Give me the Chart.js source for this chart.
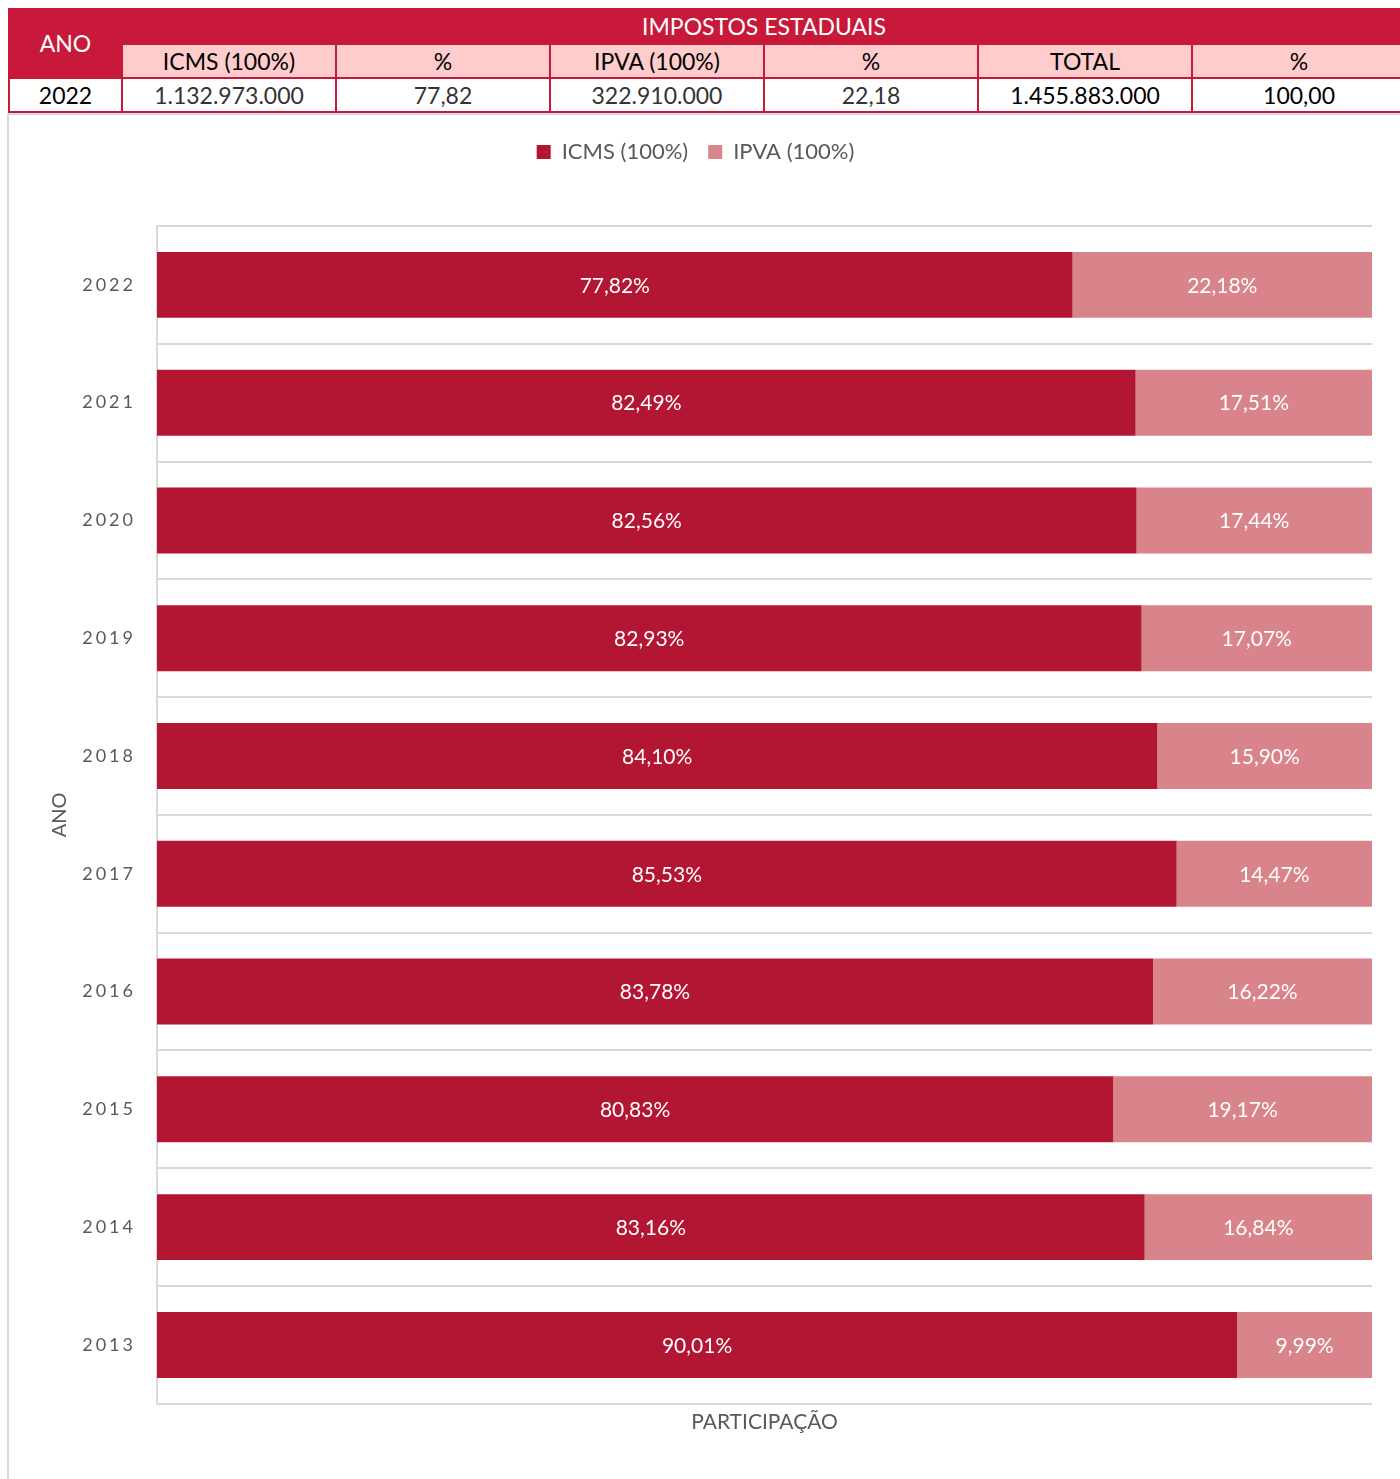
<!DOCTYPE html>
<html>
<head>
<meta charset="utf-8">
<script src="https://cdn.jsdelivr.net/npm/chart.js@4.4.1/dist/chart.umd.min.js"></script>
<style>
  html, body { margin: 0; padding: 0; background: #fff; overflow: hidden; width: 1400px; height: 1479px; }
  #tbl { position: absolute; left: 8px; top: 8px; border-collapse: collapse; table-layout: fixed; width: 1397px;
         font-family: Lato, "Open Sans", sans-serif; font-size: 23px; }
  #tbl td { border: 2px solid #C8193A; text-align: center; padding: 0; line-height: 1; white-space: nowrap; }
  #tbl tr.r1 td { background: #C8193A; color: #fff; height: 33px; }
  #tbl tr.r2 td { background: #FFCCCC; color: #000; height: 32px; }
  #tbl tr.r3 td { background: #fff; color: #333; height: 32px; font-weight: 400; }
  #tbl tr.r3 td.strong { color: #000; font-weight: 400; }
  #tbl td.ano { background: #C8193A; color: #fff; }
  #box { position: absolute; left: 7px; top: 113px; width: 1391px; height: 1364px;
         border-left: 2px solid #d9d9d9; border-top: 2px solid #d9d9d9; }
  #c { display: block; }
</style>
</head>
<body>
<table id="tbl"></table>
<div id="box"><canvas id="c" width="1391" height="1364"></canvas></div>
<script>
// ---- data ----
const categories = ['2022', '2021', '2020', '2019', '2018', '2017', '2016', '2015', '2014', '2013'];
const icmsShare = [77.82, 82.49, 82.56, 82.93, 84.10, 85.53, 83.78, 80.83, 83.16, 90.01];
const ipvaShare = [22.18, 17.51, 17.44, 17.07, 15.90, 14.47, 16.22, 19.17, 16.84, 9.99];
const seriesNames = ['ICMS (100%)', 'IPVA (100%)'];
const xAxisRange = [10, 100];

const tableTitle = 'IMPOSTOS ESTADUAIS';
const tableFirstHeader = 'ANO';
const tableColumns = ['ICMS (100%)', '%', 'IPVA (100%)', '%', 'TOTAL', '%'];
const tableRow = ['2022', '1.132.973.000', '77,82', '322.910.000', '22,18', '1.455.883.000', '100,00'];
const tableStrong = [true, false, false, false, false, true, true];

// ---- table ----
(function buildTable() {
  const t = document.getElementById('tbl');
  const cg = document.createElement('colgroup');
  [113, 214, 214, 214, 214, 214, 214].forEach(w => { const c = document.createElement('col'); c.style.width = w + 'px'; cg.appendChild(c); });
  t.appendChild(cg);
  const r1 = document.createElement('tr'); r1.className = 'r1';
  const a = document.createElement('td'); a.rowSpan = 2; a.className = 'ano'; a.textContent = tableFirstHeader; r1.appendChild(a);
  const h = document.createElement('td'); h.colSpan = tableColumns.length; h.textContent = tableTitle; r1.appendChild(h);
  t.appendChild(r1);
  const r2 = document.createElement('tr'); r2.className = 'r2';
  tableColumns.forEach(s => { const d = document.createElement('td'); d.textContent = s; r2.appendChild(d); });
  t.appendChild(r2);
  const r3 = document.createElement('tr'); r3.className = 'r3';
  tableRow.forEach((s, i) => { const d = document.createElement('td'); d.textContent = s; if (tableStrong[i]) d.className = 'strong'; r3.appendChild(d); });
  t.appendChild(r3);
})();

// ---- chart ----
const fmt = v => v.toFixed(2).replace('.', ',') + '%';
const FONT = 'Lato, "Open Sans", sans-serif';

const segLabels = {
  id: 'segLabels',
  afterDatasetsDraw(chart) {
    const { ctx, chartArea } = chart;
    ctx.save();
    ctx.font = '21px ' + FONT;
    ctx.fillStyle = '#ffffff';
    ctx.textAlign = 'center';
    ctx.textBaseline = 'middle';
    chart.data.datasets.forEach((ds, i) => {
      const meta = chart.getDatasetMeta(i);
      meta.data.forEach((bar, j) => {
        const p = bar.getProps(['x', 'base', 'y'], true);
        const l = Math.max(Math.min(p.x, p.base), chartArea.left);
        const r = Math.min(Math.max(p.x, p.base), chartArea.right);
        ctx.fillText(fmt(ds.data[j]), (l + r) / 2, p.y + 1);
      });
    });
    ctx.restore();
  }
};

const tweaks = {
  id: 'tweaks',
  beforeUpdate(chart) {
    if (chart.legend && !chart.legend._patched) {
      const orig = chart.legend.fit;
      chart.legend.fit = function () { orig.call(this); this.height = 105; };
      chart.legend._patched = true;
    }
  },
  beforeDraw(chart) {
    const s = chart.scales.y;
    if (s && !s._patched) {
      const orig = s.drawLabels;
      s.drawLabels = function (area) {
        const c = this.ctx; c.save(); c.letterSpacing = '3px'; orig.call(this, area); c.restore();
      };
      s._patched = true;
    }
  }
};

new Chart(document.getElementById('c'), {
  type: 'bar',
  data: {
    labels: categories,
    datasets: [
      { label: seriesNames[0], data: icmsShare, backgroundColor: '#B31632', borderWidth: 0 },
      { label: seriesNames[1], data: ipvaShare, backgroundColor: '#D8848A', borderWidth: 0 }
    ]
  },
  options: {
    indexAxis: 'y',
    responsive: false,
    devicePixelRatio: 1,
    animation: false,
    barPercentage: 0.56,
    categoryPercentage: 1,
    layout: { padding: { top: 6, left: 10, right: 28, bottom: 0 } },
    plugins: {
      legend: {
        position: 'top',
        align: 'center',
        labels: { boxWidth: 14, boxHeight: 14, padding: 20, color: '#595959', font: { family: FONT, size: 22 } }
      },
      tooltip: { enabled: false }
    },
    scales: {
      x: {
        stacked: true,
        min: xAxisRange[0],
        max: xAxisRange[1],
        ticks: { display: false },
        grid: { display: false, drawTicks: false },
        border: { display: false },
        title: { display: true, text: 'PARTICIPAÇÃO', color: '#595959', font: { family: FONT, size: 21 }, padding: { top: 6, bottom: 44 } }
      },
      y: {
        stacked: true,
        afterFit(s) { s.width = 138; },
        ticks: { color: '#595959', font: { family: FONT, size: 18 }, padding: 21 },
        grid: { offset: true, color: '#d9d9d9', lineWidth: 2, drawTicks: false },
        border: { display: true, color: '#d9d9d9', width: 2 },
        title: { display: true, text: 'ANO', color: '#595959', font: { family: FONT, size: 20 }, padding: { top: 29, bottom: 0 } }
      }
    }
  },
  plugins: [segLabels, tweaks]
});
</script>
</body>
</html>
